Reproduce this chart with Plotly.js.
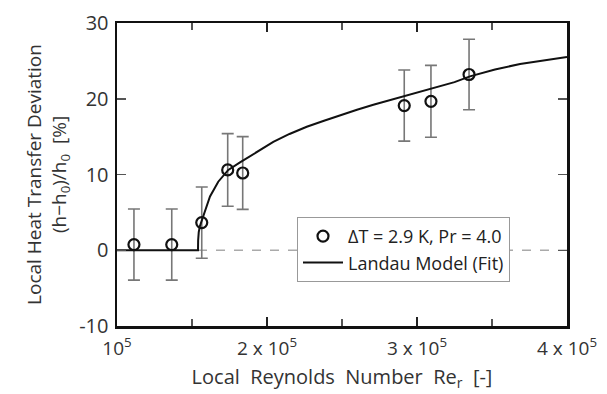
<!DOCTYPE html>
<html><head><meta charset="utf-8">
<script src="https://cdn.plot.ly/plotly-3.0.1.min.js"></script>
<style>html,body{margin:0;padding:0;background:#fff}#chart{width:607px;height:394px}</style>
</head><body><div id="chart"></div>
<script>
// Measured data (Local Reynolds number vs. heat transfer deviation)
const reData = [1.113e5, 1.365e5, 1.565e5, 1.738e5, 1.838e5, 2.915e5, 3.093e5, 3.347e5];
const devData = [0.75, 0.75, 3.65, 10.6, 10.2, 19.1, 19.66, 23.2];
const errData = [4.7, 4.7, 4.7, 4.8, 4.8, 4.7, 4.75, 4.65];

// Landau model fit curve
const fitRe  = [1.0e5, 1.54e5, 1.541e5, 1.545e5, 1.553e5, 1.565e5, 1.59e5, 1.62e5, 1.675e5, 1.742e5, 1.82e5, 1.931e5, 2.042e5, 2.15e5, 2.265e5, 2.38e5, 2.487e5, 2.6e5, 2.709e5, 2.82e5, 2.931e5, 3.04e5, 3.153e5, 3.25e5, 3.353e5, 3.52e5, 3.687e5, 3.85e5, 4.0e5];
const fitDev = [0, 0, 1.3, 2.4, 3.2, 3.9, 5.6, 7.1, 9.05, 10.6, 11.6, 12.9, 14.3, 15.35, 16.3, 17.1, 17.85, 18.55, 19.2, 19.8, 20.4, 21.0, 21.6, 22.2, 22.95, 23.85, 24.6, 25.1, 25.5];

// Dashed zero reference line
const zeroRe = [1.54e5, 4.0e5];
const zeroDev = [0, 0];

const xTickVals = [1e5, 2e5, 3e5, 4e5];
const xTickText = ['10<sup>5</sup>', '2 x 10<sup>5</sup>', '3 x 10<sup>5</sup>', '4 x 10<sup>5</sup>'];
const yTickVals = [-10, 0, 10, 20, 30];
const yTickText = ['-10', '0', '10', '20', '30'];

const FONT = '"Open Sans", Lato, sans-serif';

const traces = [
  {x: zeroRe, y: zeroDev, mode: 'lines', line: {color: '#aaaaaa', width: 1.5, dash: 'dash'}, showlegend: false, hoverinfo: 'skip'},
  {x: reData, y: devData, mode: 'markers', name: '\u0394T = 2.9 K, Pr = 4.0',
   marker: {symbol: 'circle-open', size: 11, color: '#111', line: {width: 2.2, color: '#111'}},
   error_y: {type: 'data', array: errData, visible: true, color: '#777', thickness: 1.6, width: 6}},
  {x: fitRe, y: fitDev, mode: 'lines', name: 'Landau Model (Fit)', line: {color: '#111', width: 2}}
];

const layout = {
  width: 607, height: 394,
  margin: {l: 117, r: 40, t: 23, b: 68},
  paper_bgcolor: '#fff', plot_bgcolor: '#fff',
  font: {family: FONT, color: '#333', size: 18},
  showlegend: true,
  legend: {x: 0.40, y: 0.36, xanchor: 'left', yanchor: 'top', bgcolor: '#fff', bordercolor: '#999', borderwidth: 1,
           font: {family: FONT, size: 18, color: '#222'}, tracegroupgap: 0, itemwidth: 40},
  xaxis: {range: [1e5, 4e5], tickvals: xTickVals, ticktext: xTickText, ticks: 'inside', ticklen: 9, tickwidth: 2, tickcolor: '#222',
          showline: true, linecolor: '#111', linewidth: 2.5, mirror: 'ticks', showgrid: false, zeroline: false,
          minor: {dtick: 50000, tick0: 100000, ticks: 'inside', ticklen: 7, tickwidth: 1.2, tickcolor: '#555', showgrid: false},
          tickfont: {size: 19, color: '#333'}, ticklabelstandoff: 4,
          title: {text: 'Local  Reynolds  Number  Re<sub>r</sub>  [-]', font: {size: 20, color: '#333'}, standoff: 10}},
  yaxis: {range: [-10, 30], tickvals: yTickVals, ticktext: yTickText, ticks: 'inside', ticklen: 9, tickwidth: 1.5, tickcolor: '#555',
          showline: true, linecolor: '#111', linewidth: 2.5, mirror: 'ticks', showgrid: false, zeroline: false,
          tickfont: {size: 20, color: '#333'}, ticklabelstandoff: 2,
          title: {text: 'Local Heat Transfer Deviation<br>(h\u2212h<sub>0</sub>)/h<sub>0</sub>  [%]', font: {size: 19, color: '#333'}, standoff: 8}}
};

Plotly.newPlot('chart', traces, layout, {staticPlot: true, displayModeBar: false});
</script></body></html>
